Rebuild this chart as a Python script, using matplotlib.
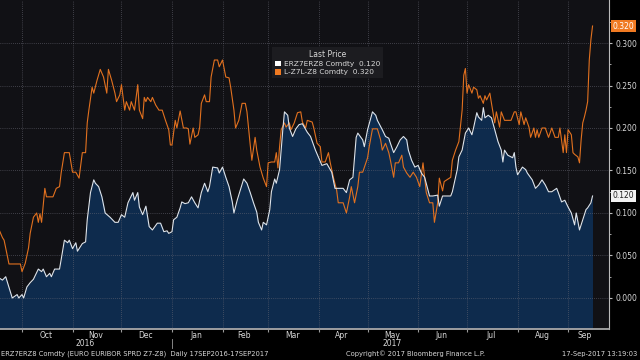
import numpy as np
import pandas as pd
import matplotlib
matplotlib.use('Agg')
from matplotlib import pyplot as plt
import matplotlib.dates as mdates
import matplotlib.transforms as mtransforms
from matplotlib.patches import Patch

start = pd.Timestamp('2016-09-17')

# ERZ7ERZ8 Comdty - days since 17 Sep 2016 and spread values
erz_days = [0, 2, 4, 8, 11, 12, 14, 15, 17, 19, 21, 24, 26, 27, 29, 31, 32, 34, 37, 38,
            40, 42, 43, 45, 47, 48, 51, 53, 54, 56, 58, 59, 61, 63, 65, 68, 71, 73, 75, 77,
            79, 82, 83, 85, 86, 88, 90, 92,
            94, 97, 99, 101, 103, 104, 106, 107, 109, 111, 112, 114, 116, 118, 120, 122, 124, 126, 128, 129,
            131, 134, 135, 137, 139, 141, 143, 144, 146, 150, 152, 154, 156, 158, 159, 161, 162, 164, 166, 167,
            169, 170, 172, 174, 175, 177, 178, 180, 182, 184,
            186, 189, 191, 194, 196, 198, 201, 204, 206, 208, 211, 213, 215, 217, 219, 220, 223, 224, 226, 229,
            231, 232, 235, 237, 239, 240, 242, 244, 246, 248, 250, 251, 253, 255, 257, 259, 261, 263, 264, 266,
            269, 270, 272, 277,
            278, 281, 282, 284, 286, 288, 290, 291, 293, 294, 296, 297, 298, 300, 302, 304, 306, 308, 309, 310,
            312, 315, 316, 317, 318, 321, 323, 324, 327, 329, 331, 333, 335, 337, 339, 342, 343, 345, 347, 349,
            351, 353, 354, 356, 358, 360, 361, 363, 364]
erz_vals = [0.0235, 0.021, 0.025, 0.0, 0.004, 0.0, 0.004, 0.0, 0.013, 0.018, 0.022, 0.034, 0.031, 0.034, 0.025,
            0.029, 0.025, 0.034, 0.034, 0.045, 0.068, 0.065, 0.068, 0.058, 0.065, 0.055, 0.064, 0.066, 0.092, 0.124,
            0.139, 0.135, 0.131, 0.119, 0.1, 0.095, 0.089, 0.089, 0.098, 0.095, 0.112, 0.124, 0.115, 0.124, 0.107,
            0.098, 0.108, 0.084,
            0.080, 0.088, 0.088, 0.078, 0.079, 0.076, 0.078, 0.092, 0.095, 0.106, 0.113, 0.111, 0.112, 0.119, 0.112,
            0.106, 0.124, 0.135, 0.125, 0.131, 0.154, 0.153, 0.147, 0.154, 0.142, 0.131, 0.113, 0.1, 0.115, 0.14,
            0.135, 0.124, 0.112, 0.101, 0.089, 0.080, 0.089, 0.086, 0.104, 0.125, 0.14, 0.135, 0.151, 0.198, 0.219,
            0.215, 0.2, 0.19, 0.199, 0.204,
            0.205, 0.195, 0.19, 0.174, 0.165, 0.156, 0.158, 0.148, 0.129, 0.129, 0.129, 0.124, 0.139, 0.142, 0.189,
            0.194, 0.186, 0.178, 0.198, 0.219, 0.215, 0.209, 0.198, 0.19, 0.188, 0.182, 0.171, 0.178, 0.186, 0.19,
            0.186, 0.174, 0.162, 0.154, 0.156, 0.147, 0.142, 0.127, 0.12, 0.12, 0.121, 0.108, 0.12, 0.12,
            0.125, 0.151, 0.166, 0.174, 0.194, 0.2, 0.192, 0.2, 0.218, 0.213, 0.209, 0.224, 0.212, 0.215, 0.212,
            0.198, 0.184, 0.174, 0.16, 0.174, 0.168, 0.165, 0.171, 0.154, 0.145, 0.154, 0.151, 0.147, 0.139, 0.129,
            0.133, 0.139, 0.133, 0.125, 0.125, 0.129, 0.124, 0.113, 0.115, 0.107, 0.1, 0.086, 0.1, 0.08, 0.092,
            0.104, 0.106, 0.112, 0.12]

# L-Z7L-Z8 Comdty
lz_days = [0, 2, 3, 6, 12, 13, 14, 16, 18, 19, 21, 23, 24, 25, 26, 28, 29, 33, 35, 37,
           38, 40, 43, 45, 47, 49, 51, 53, 54, 55, 57, 58, 60, 62, 64, 66, 67, 69, 71, 72,
           74, 75, 77, 78, 80, 81, 83, 85, 86, 88, 89, 90, 91, 93,
           94, 96, 98, 100, 102, 104, 105, 106, 108, 109, 111, 113, 115, 116, 117, 119, 120, 122, 123, 124,
           126, 127, 129, 130, 132, 134, 135, 137, 139, 141, 142, 144, 145, 147, 149, 151, 152, 154, 155, 157,
           158, 160, 162, 164, 165, 167, 169, 170, 171, 172, 173, 175, 176, 178, 179, 181, 183,
           185, 186, 188, 189, 192, 193, 195, 197, 198, 200, 202, 203, 205, 207, 208, 211, 213, 215, 216, 218,
           220, 221, 223, 226, 227, 229, 232, 234, 235, 237, 239, 240, 242, 243, 245, 247, 248, 250, 252, 254,
           256, 258, 260, 262, 264, 266, 267, 269, 270, 272, 273,
           277, 278, 280, 282, 284, 285, 286, 287, 288, 290, 291, 293, 294, 295, 297, 298, 299, 301, 302, 304,
           305, 307, 308, 310, 311, 313, 314, 316, 317, 319, 320, 322, 323, 325, 326, 328, 329, 330, 331, 333,
           335, 337, 339, 341, 343, 344, 346, 347, 348, 349, 351, 352, 353, 355, 356, 357, 358, 359, 360, 361,
           362, 363, 364]
lz_vals = [0.08, 0.071, 0.068, 0.04, 0.04, 0.04, 0.031, 0.041, 0.059, 0.076, 0.095, 0.1, 0.089, 0.099, 0.089,
           0.129, 0.119, 0.119, 0.129, 0.131, 0.147, 0.171, 0.171, 0.148, 0.148, 0.141, 0.171, 0.171, 0.206, 0.221,
           0.248, 0.241, 0.256, 0.269, 0.26, 0.241, 0.269, 0.256, 0.241, 0.231, 0.239, 0.251, 0.221, 0.231, 0.221,
           0.231, 0.221, 0.251, 0.221, 0.211, 0.236, 0.231, 0.236, 0.231,
           0.236, 0.227, 0.221, 0.221, 0.209, 0.198, 0.18, 0.18, 0.209, 0.2, 0.22, 0.2, 0.2, 0.199, 0.181,
           0.2, 0.189, 0.192, 0.201, 0.229, 0.239, 0.231, 0.231, 0.26, 0.28, 0.28, 0.272, 0.28, 0.26, 0.259,
           0.248, 0.221, 0.2, 0.209, 0.229, 0.229, 0.219, 0.18, 0.162, 0.189, 0.174, 0.154, 0.141, 0.131, 0.159,
           0.16, 0.16, 0.171, 0.153, 0.178, 0.198, 0.206, 0.201, 0.206, 0.198, 0.206, 0.218,
           0.219, 0.207, 0.2, 0.209, 0.207, 0.2, 0.182, 0.178, 0.16, 0.16, 0.171, 0.16, 0.142, 0.127, 0.112,
           0.112, 0.1, 0.119, 0.131, 0.112, 0.131, 0.148, 0.148, 0.165, 0.178, 0.199, 0.199, 0.186, 0.174, 0.182,
           0.171, 0.162, 0.142, 0.159, 0.159, 0.168, 0.154, 0.147, 0.142, 0.148, 0.142, 0.131, 0.159, 0.124, 0.112,
           0.112, 0.089, 0.112, 0.141, 0.126, 0.137,
           0.142, 0.162, 0.174, 0.184, 0.221, 0.262, 0.27, 0.241, 0.251, 0.241, 0.248, 0.245, 0.235, 0.238, 0.229,
           0.238, 0.233, 0.241, 0.229, 0.206, 0.219, 0.201, 0.219, 0.209, 0.209, 0.209, 0.209, 0.219, 0.219, 0.204,
           0.219, 0.204, 0.212, 0.201, 0.189, 0.2, 0.189, 0.198, 0.189, 0.2, 0.2, 0.189, 0.2, 0.189, 0.189,
           0.2, 0.171, 0.192, 0.171, 0.198, 0.192, 0.171, 0.169, 0.166, 0.159, 0.186, 0.206, 0.213, 0.221, 0.231,
           0.28, 0.304, 0.32]

month_labels = ['Oct', 'Nov', 'Dec', 'Jan', 'Feb', 'Mar', 'Apr', 'May', 'Jun', 'Jul', 'Aug', 'Sep']
month_label_dates = ['2016-10-16', '2016-11-15', '2016-12-16', '2017-01-16', '2017-02-14', '2017-03-16',
                     '2017-04-15', '2017-05-16', '2017-06-15', '2017-07-16', '2017-08-16', '2017-09-11']
y_ticks = [0.0, 0.05, 0.1, 0.15, 0.2, 0.25, 0.3]
last_erz = 0.120
last_lz = 0.320

WHITE = '#dde4ec'
ORANGE = '#e2711f'
FILL = '#0e2b4d'
TXT = '#d8d8d8'

erz_dates = start + pd.to_timedelta(erz_days, unit='D')
lz_dates = start + pd.to_timedelta(lz_days, unit='D')
y_bottom, y_top = -0.0365, 0.3506

fig = plt.figure(figsize=(6.4, 3.6), dpi=100, facecolor='black')
ax = fig.add_axes([0, 31 / 360, 609 / 640, 329 / 360])
ax.set_facecolor('#111115')

ax.fill_between(erz_dates, erz_vals, y_bottom, color=FILL, lw=0, zorder=1)
ax.plot(lz_dates, lz_vals, color=ORANGE, lw=0.8, zorder=3)
ax.plot(erz_dates, erz_vals, color=WHITE, lw=0.8, zorder=4)

ax.set_xlim(start + pd.Timedelta(days=0.49), start + pd.Timedelta(days=374.1))
ax.set_ylim(y_bottom, y_top)

# grid
ax.set_axisbelow(False)
ax.xaxis.set_major_locator(mdates.MonthLocator())
ax.xaxis.set_major_formatter(plt.NullFormatter())
ax.xaxis.set_minor_locator(plt.FixedLocator(mdates.date2num(pd.to_datetime(month_label_dates))))
ax.xaxis.set_minor_formatter(plt.FixedFormatter(month_labels))
ax.grid(True, which='major', color='#6a6a76', linestyle=(0, (1, 2)), linewidth=0.5, zorder=2)
ax.tick_params(axis='x', which='major', length=2, color='#9a9a9a', direction='out')
ax.tick_params(axis='x', which='minor', length=0, labelsize=5.5, labelcolor=TXT, pad=1.5)

ax.yaxis.tick_right()
ax.set_yticks(y_ticks)
ax.set_yticklabels([f'{v:.3f}' for v in y_ticks])
ax.set_yticks([0.025, 0.075, 0.125, 0.175, 0.225, 0.275, 0.325], minor=True)
ax.tick_params(axis='y', which='major', length=2.5, color='#bbbbbb', labelsize=5.5, labelcolor=TXT, pad=2)
ax.tick_params(axis='y', which='minor', length=1.5, color='#bbbbbb')

for s in ['left', 'top']:
    ax.spines[s].set_visible(False)
ax.spines['right'].set_color('#bbbbbb')
ax.spines['right'].set_linewidth(0.8)
ax.spines['bottom'].set_color('#a8a8a8')
ax.spines['bottom'].set_linewidth(1.3)

# year labels and separator
trans = mtransforms.blended_transform_factory(ax.transData, fig.transFigure)
ax.text(pd.Timestamp('2016-11-09'), 1 - 344 / 360, '2016', transform=trans, ha='center', va='center',
        fontsize=5.5, color=TXT)
ax.text(pd.Timestamp('2017-05-16'), 1 - 344 / 360, '2017', transform=trans, ha='center', va='center',
        fontsize=5.5, color=TXT)
ax.plot([pd.Timestamp('2017-01-01')] * 2, [1 - 339 / 360, 1 - 348 / 360], transform=trans,
        color='#9a9a9a', lw=0.6, clip_on=False)

# last value badges
btrans = mtransforms.blended_transform_factory(ax.transAxes, ax.transData)
ax.text(1.006, last_lz, f'{last_lz:.3f}', transform=btrans, ha='left', va='center', fontsize=5.5,
        color='white', bbox=dict(boxstyle='square,pad=0.25', fc='#f07a22', ec='none'))
ax.text(1.006, last_erz, f'{last_erz:.3f}', transform=btrans, ha='left', va='center', fontsize=5.5,
        color='#222222', bbox=dict(boxstyle='square,pad=0.25', fc='#f2f2f2', ec='none'))

# legend
handles = [Patch(fc='white', ec='none'), Patch(fc='#f07a22', ec='none')]
labels = [f'ERZ7ERZ8 Comdty  {last_erz:.3f}', f'L-Z7L-Z8 Comdty  {last_lz:.3f}']
leg = ax.legend(handles, labels, title='Last Price', loc='upper left',
                bbox_to_anchor=(272 / 640, 1 - 47 / 360), bbox_transform=fig.transFigure,
                fontsize=5.3, title_fontsize=5.5, frameon=True, fancybox=False,
                facecolor='#1c1c20', edgecolor='none', framealpha=1, labelcolor=TXT,
                handlelength=0.8, handleheight=0.8, handletextpad=0.4, borderpad=0.4,
                labelspacing=0.25, borderaxespad=0)
leg.get_title().set_color(TXT)
leg.set_zorder(10)

# footer
fy = 1 - 354 / 360
fig.text(0.002, fy, 'ERZ7ERZ8 Comdty (EURO EURIBOR SPRD Z7-Z8)  Daily 17SEP2016-17SEP2017',
         fontsize=4.9, color=TXT, ha='left', va='center')
fig.text(416 / 640, fy, 'Copyright\u00a9 2017 Bloomberg Finance L.P.', fontsize=4.9, color=TXT,
         ha='center', va='center')
fig.text(0.996, fy, '17-Sep-2017 13:19:03', fontsize=4.9, color=TXT, ha='right', va='center')

fig.savefig('out.png', dpi=100, facecolor='black')
